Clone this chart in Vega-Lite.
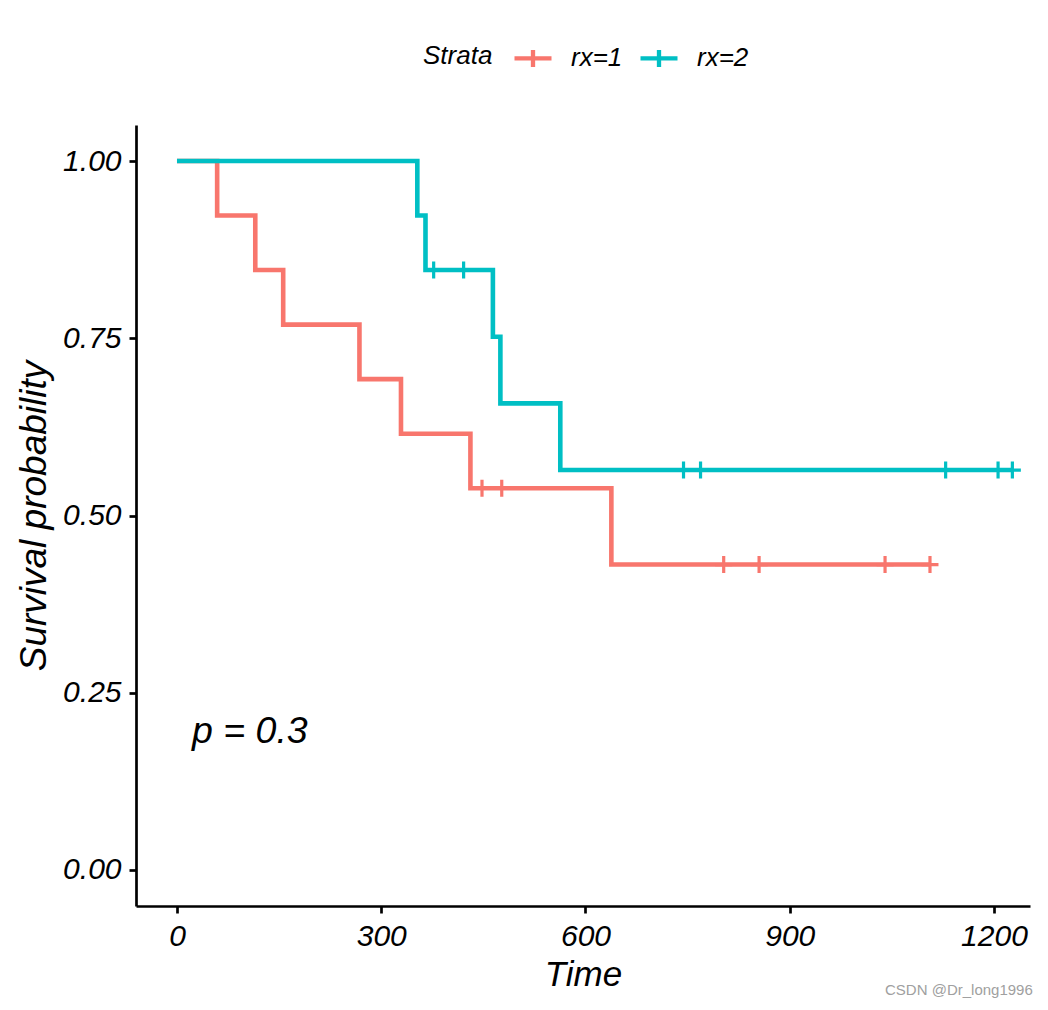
{
  "$schema": "https://vega.github.io/schema/vega-lite/v6.json",
  "width": 894,
  "height": 781,
  "autosize": {"type": "none"},
  "padding": {"left": 136, "top": 125, "right": 18, "bottom": 104},
  "background": "white",
  "config": {
    "view": {"stroke": null},
    "font": "Liberation Sans",
    "axis": {
      "grid": false,
      "domainColor": "black",
      "domainWidth": 2.7,
      "tickColor": "black",
      "tickWidth": 2.7,
      "tickSize": 7,
      "labelFont": "Liberation Sans",
      "labelFontStyle": "italic",
      "labelFontSize": 30,
      "labelColor": "black",
      "titleFont": "Liberation Sans",
      "titleFontStyle": "italic",
      "titleFontWeight": "normal",
      "titleFontSize": 35,
      "titleColor": "black"
    },
    "legend": {
      "labelFont": "Liberation Sans",
      "labelFontStyle": "italic",
      "labelFontSize": 26,
      "labelColor": "black",
      "titleFont": "Liberation Sans",
      "titleFontStyle": "italic",
      "titleFontWeight": "normal",
      "titleFontSize": 26,
      "titleColor": "black"
    }
  },
  "datasets": {
    "km": [
      {"time": 0, "surv": 1.0, "strata": "rx=1", "kind": "step"},
      {"time": 59, "surv": 0.9231, "strata": "rx=1", "kind": "step"},
      {"time": 115, "surv": 0.8462, "strata": "rx=1", "kind": "step"},
      {"time": 156, "surv": 0.7692, "strata": "rx=1", "kind": "step"},
      {"time": 268, "surv": 0.6923, "strata": "rx=1", "kind": "step"},
      {"time": 329, "surv": 0.6154, "strata": "rx=1", "kind": "step"},
      {"time": 431, "surv": 0.5385, "strata": "rx=1", "kind": "step"},
      {"time": 638, "surv": 0.4308, "strata": "rx=1", "kind": "step"},
      {"time": 1106, "surv": 0.4308, "strata": "rx=1", "kind": "step"},
      {"time": 0, "surv": 1.0, "strata": "rx=2", "kind": "step"},
      {"time": 353, "surv": 0.9231, "strata": "rx=2", "kind": "step"},
      {"time": 365, "surv": 0.8462, "strata": "rx=2", "kind": "step"},
      {"time": 464, "surv": 0.7521, "strata": "rx=2", "kind": "step"},
      {"time": 475, "surv": 0.6581, "strata": "rx=2", "kind": "step"},
      {"time": 563, "surv": 0.5641, "strata": "rx=2", "kind": "step"},
      {"time": 1227, "surv": 0.5641, "strata": "rx=2", "kind": "step"},
      {"time": 448, "surv": 0.5385, "strata": "rx=1", "kind": "censor"},
      {"time": 477, "surv": 0.5385, "strata": "rx=1", "kind": "censor"},
      {"time": 803, "surv": 0.4308, "strata": "rx=1", "kind": "censor"},
      {"time": 855, "surv": 0.4308, "strata": "rx=1", "kind": "censor"},
      {"time": 1040, "surv": 0.4308, "strata": "rx=1", "kind": "censor"},
      {"time": 1106, "surv": 0.4308, "strata": "rx=1", "kind": "censor"},
      {"time": 377, "surv": 0.8462, "strata": "rx=2", "kind": "censor"},
      {"time": 421, "surv": 0.8462, "strata": "rx=2", "kind": "censor"},
      {"time": 744, "surv": 0.5641, "strata": "rx=2", "kind": "censor"},
      {"time": 769, "surv": 0.5641, "strata": "rx=2", "kind": "censor"},
      {"time": 1129, "surv": 0.5641, "strata": "rx=2", "kind": "censor"},
      {"time": 1206, "surv": 0.5641, "strata": "rx=2", "kind": "censor"},
      {"time": 1227, "surv": 0.5641, "strata": "rx=2", "kind": "censor"}
    ],
    "notes": [
      {"label": "p = 0.3", "kind": "pval"},
      {"label": "CSDN @Dr_long1996", "kind": "mark"}
    ]
  },
  "layer": [
    {
      "data": {"name": "km"},
      "transform": [{"filter": "datum.kind === 'step'"}],
      "mark": {"type": "line", "interpolate": "step-after", "strokeWidth": 4.6, "strokeCap": "butt"},
      "encoding": {
        "x": {
          "field": "time", "type": "quantitative",
          "scale": {"domain": [-60.2, 1252.9], "nice": false, "zero": false},
          "axis": {"values": [0, 300, 600, 900, 1200], "format": "d", "title": "Time", "labelPadding": 8, "titlePadding": 6}
        },
        "y": {
          "field": "surv", "type": "quantitative",
          "scale": {"domain": [-0.0508, 1.0508], "nice": false, "zero": false},
          "axis": {"values": [0, 0.25, 0.5, 0.75, 1], "format": ".2f", "title": "Survival probability", "titleFontSize": 37, "labelPadding": 8, "titlePadding": 9}
        },
        "color": {
          "field": "strata", "type": "nominal",
          "scale": {"domain": ["rx=1", "rx=2"], "range": ["#F8766D", "#00BFC4"]},
          "legend": {
            "title": "Strata",
            "orient": "none",
            "direction": "horizontal",
            "legendX": 287,
            "legendY": -88,
            "titleOrient": "left",
            "titlePadding": 19,
            "columnPadding": 8,
            "labelOffset": 17,
            "symbolType": "M-1,0H1M0,-0.46V0.46",
            "symbolSize": 1369,
            "symbolStrokeWidth": 4.3,
            "symbolFillColor": "transparent"
          }
        }
      }
    },
    {
      "data": {"name": "km"},
      "transform": [{"filter": "datum.kind === 'censor'"}],
      "mark": {"type": "point", "shape": "M-1,0H1M0,-1V1", "filled": false, "size": 289, "strokeWidth": 3.2, "opacity": 1},
      "encoding": {
        "x": {"field": "time", "type": "quantitative"},
        "y": {"field": "surv", "type": "quantitative"},
        "color": {"field": "strata", "type": "nominal"}
      }
    },
    {
      "data": {"name": "notes"},
      "transform": [{"filter": "datum.kind === 'pval'"}],
      "mark": {"type": "text", "align": "left", "baseline": "alphabetic", "fontSize": 37.5, "fontStyle": "italic", "font": "Liberation Sans", "fill": "black"},
      "encoding": {
        "text": {"field": "label"},
        "x": {"datum": 22},
        "y": {"datum": 0.179}
      }
    },
    {
      "data": {"name": "notes"},
      "transform": [{"filter": "datum.kind === 'mark'"}],
      "mark": {"type": "text", "align": "right", "baseline": "middle", "fontSize": 15, "font": "Liberation Sans", "fill": "#a0a0a0"},
      "encoding": {
        "text": {"field": "label"},
        "x": {"datum": 1257},
        "y": {"datum": -0.169}
      }
    }
  ]
}
